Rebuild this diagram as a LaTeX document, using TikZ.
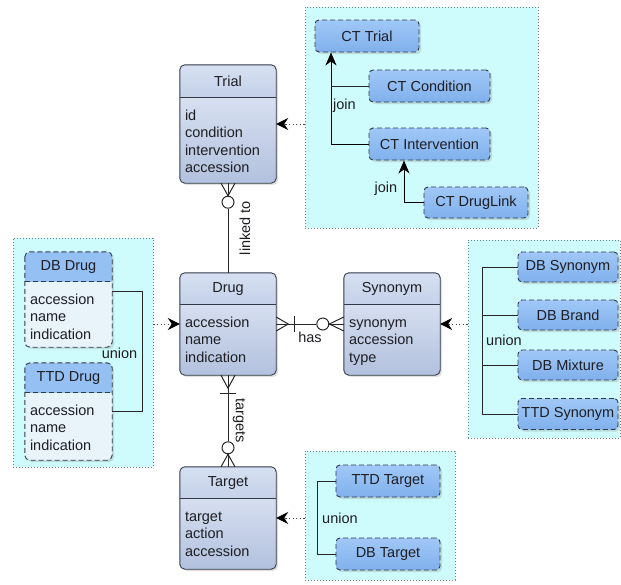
\documentclass[tikz,border=0pt]{standalone}
\usepackage{fontspec}
\setmainfont{Liberation Sans}
\usetikzlibrary{arrows.meta,shadows}
\definecolor{hdrtop}{RGB}{214,224,241}
\definecolor{hdrbot}{RGB}{190,204,230}
\definecolor{bodytop}{RGB}{230,236,248}
\definecolor{bodybot}{RGB}{178,193,222}
\definecolor{edge}{RGB}{50,58,72}
\definecolor{sboxtop}{RGB}{160,200,247}
\definecolor{sboxbot}{RGB}{128,176,236}
\definecolor{dhead}{RGB}{148,192,243}
\definecolor{dbody}{RGB}{232,243,250}
\definecolor{clfill}{RGB}{206,251,251}
\definecolor{cldraw}{RGB}{110,130,130}
\definecolor{txt}{RGB}{30,30,35}
\newcommand\fs{\fontsize{14.5}{17.5}\selectfont}
% name, style prefix, cx, cy, width, height, header height, title, body
\newcommand\erbox[9]{%
  \node[#2box, minimum width=#5pt, minimum height=#6pt] (#1) at (#3,#4) {};
  \begin{scope}
    \clip (#1.north west) rectangle ([yshift=-#7pt]#1.north east);
    \path[#2hdr, rounded corners=5pt] (#1.north west) rectangle ([yshift={-#7pt-10pt}]#1.north east);
  \end{scope}
  \path[#2line, rounded corners=5pt] (#1.north west) rectangle (#1.south east);
  \path[#2line] ([yshift=-#7pt]#1.north west) -- ([yshift=-#7pt]#1.north east);
  \node (#1-title) at ([yshift={-#7pt/2}]#1.north) {#8};
  \node[align=left, anchor=north west, inner sep=0pt] (#1-body)
     at ([xshift=5pt, yshift={-#7pt-10pt}]#1.north west) {\strut #9};
}
\begin{document}
\begin{tikzpicture}[x=1pt, y=-1pt,
  every node/.style={font=\fs, text=txt},
  shadowed/.style={drop shadow={opacity=0.25, shadow xshift=2pt, shadow yshift=-2pt}},
  ebox/.style={rectangle, inner sep=0pt, rounded corners=5pt, top color=bodytop, bottom color=bodybot, shadowed},
  ehdr/.style={top color=hdrtop, bottom color=hdrbot},
  eline/.style={draw=edge, line width=0.9pt},
  dbox/.style={rectangle, inner sep=0pt, rounded corners=5pt, fill=dbody, shadowed},
  dhdr/.style={fill=dhead},
  dline/.style={draw=edge, line width=0.9pt, dash pattern=on 5pt off 3pt},
  sbox/.style={rectangle, inner sep=0pt, rounded corners=4pt, draw=edge, line width=0.9pt,
     dash pattern=on 5pt off 3pt, top color=sboxtop, bottom color=sboxbot, shadowed},
  cluster/.style={rectangle, inner sep=0pt, fill=clfill, draw=cldraw, line width=0.8pt,
     dash pattern=on 1pt off 2pt},
  dotarrow/.style={draw=black!70, line width=1pt, dash pattern=on 1.2pt off 2.4pt,
     -{Stealth[length=12pt, width=12pt, inset=4pt, color=black]}},
  joinarrow/.style={draw=black, line width=1pt, -{Stealth[length=13pt, width=11pt, inset=4pt]}},
  uline/.style={draw=black!85, line width=1pt},
  rel/.style={draw=black!85, line width=1pt},
  circ/.style={circle, draw=black!85, line width=1pt, fill=white, minimum size=12pt, inner sep=0pt},
]
\useasboundingbox (0,0) rectangle (621,584);

% ---------- clusters ----------
\node[cluster, minimum width=233pt, minimum height=221pt] (clTop) at (421.5,117.5) {};
\node[cluster, minimum width=140pt, minimum height=229pt] (clLeft) at (83,352.5) {};
\node[cluster, minimum width=152pt, minimum height=198pt] (clRight) at (544,339) {};
\node[cluster, minimum width=150pt, minimum height=129pt] (clBot) at (380,515.5) {};

% ---------- main entities ----------
\erbox{trial}{e}{228}{124}{96}{118}{33}{Trial}{id\\condition\\intervention\\accession}
\erbox{drug}{e}{228}{324}{96}{102}{32}{Drug}{accession\\name\\indication}
\erbox{syn}{e}{392}{324}{96}{102}{32}{Synonym}{synonym\\accession\\type}
\erbox{target}{e}{228}{518}{96}{102}{32}{Target}{target\\action\\accession}

% ---------- left cluster ----------
\erbox{dbdrug}{d}{68.5}{299.5}{87}{95}{30}{DB Drug}{accession\\name\\indication}
\erbox{ttddrug}{d}{68.5}{411.5}{87}{97}{30}{TTD Drug}{accession\\name\\indication}
\coordinate (lb) at (142,0);
\draw[uline] ([yshift=8.5pt]dbdrug.east) -- ([yshift=8.5pt]dbdrug.east -| lb)
  -- (ttddrug.east -| lb) -- (ttddrug.east);
\node (lunion) at (119.5,353) {union};

% ---------- top cluster ----------
\node[sbox, minimum width=104pt, minimum height=32pt] (cttrial) at (367,36) {CT Trial};
\node[sbox, minimum width=121pt, minimum height=32pt] (ctcond) at (429.5,86) {CT Condition};
\node[sbox, minimum width=121pt, minimum height=32pt] (ctint) at (429.5,144) {CT Intervention};
\node[sbox, minimum width=104pt, minimum height=31pt] (ctdl) at (476,202.5) {CT DrugLink};
\coordinate (j1) at (331,144);
\draw[joinarrow] (ctint.west) -- (ctint.west -| j1) -- (j1 |- cttrial.south);
\draw[uline] (ctcond.west) -- (ctcond.west -| j1);
\node[anchor=west, inner sep=0pt] (join1) at (333,106) {join};
\coordinate (j2) at (404,202.5);
\draw[joinarrow] (ctdl.west) -- (ctdl.west -| j2) -- (j2 |- ctint.south);
\node (join2) at (386,189) {join};

% ---------- right cluster ----------
\node[sbox, minimum width=100pt, minimum height=30pt] (dbsyn) at (568,267) {DB Synonym};
\node[sbox, minimum width=100pt, minimum height=30pt] (dbbrand) at (568,315) {DB Brand};
\node[sbox, minimum width=100pt, minimum height=30pt] (dbmix) at (568,365) {DB Mixture};
\node[sbox, minimum width=100pt, minimum height=31pt] (ttdsyn) at (568,414) {TTD Synonym};
\coordinate (rb) at (482,0);
\draw[uline] (dbsyn.west) -- (dbsyn.west -| rb) -- (ttdsyn.west -| rb) -- (ttdsyn.west);
\draw[uline] (dbbrand.west) -- (dbbrand.west -| rb);
\draw[uline] (dbmix.west) -- (dbmix.west -| rb);
\node[anchor=west, inner sep=0pt] (runion) at (486,340) {union};

% ---------- bottom cluster ----------
\node[sbox, minimum width=104pt, minimum height=32pt] (ttdtarget) at (388,481) {TTD Target};
\node[sbox, minimum width=104pt, minimum height=32pt] (dbtarget) at (388,554) {DB Target};
\coordinate (bb) at (317,0);
\draw[uline] (ttdtarget.west) -- (ttdtarget.west -| bb) -- (dbtarget.west -| bb) -- (dbtarget.west);
\node[anchor=west, inner sep=0pt] (bunion) at (322,518) {union};

% ---------- dotted connectors ----------
\draw[dotarrow] (clTop.west |- trial.east) -- (trial.east);
\draw[dotarrow] (clLeft.east |- drug.west) -- (drug.west);
\draw[dotarrow] (clRight.west |- syn.east) -- (syn.east);
\draw[dotarrow] (clBot.west |- target.east) -- (target.east);

% ---------- Trial -- Drug (linked to) ----------
\node[circ] (c1) at ([yshift=-19pt]trial.south) {};
\draw[rel] ([xshift=-7pt]trial.south) -- (c1.north) -- ([xshift=7pt]trial.south);
\draw[rel] (trial.south) -- (c1.north);
\draw[rel] (c1.south) -- (drug.north);
\node[rotate=90] (lk) at (245,228) {linked to};

% ---------- Drug -- Target (targets) ----------
\node[circ] (c2) at ([yshift=19pt]target.north) {};
\draw[rel] ([xshift=-7pt]drug.south) -- ([yshift=-13pt]drug.south) -- ([xshift=7pt]drug.south);
\draw[rel] (drug.south) -- (c2.north);
\draw[rel] ([xshift=-8pt,yshift=-18pt]drug.south) -- ([xshift=8pt,yshift=-18pt]drug.south);
\draw[rel] ([xshift=-7pt]target.north) -- (c2.south) -- ([xshift=7pt]target.north);
\draw[rel] (c2.south) -- (target.north);
\node[rotate=-90] (tg) at (239,421) {targets};

% ---------- Drug -- Synonym (has) ----------
\node[circ] (c3) at ([xshift=-21pt]syn.west) {};
\draw[rel] ([yshift=7pt]drug.east) -- ([xshift=12pt]drug.east) -- ([yshift=-7pt]drug.east);
\draw[rel] (drug.east) -- (c3.west);
\draw[rel] ([xshift=18pt,yshift=8pt]drug.east) -- ([xshift=18pt,yshift=-8pt]drug.east);
\draw[rel] ([yshift=7pt]syn.west) -- (c3.east) -- ([yshift=-7pt]syn.west);
\draw[rel] (c3.east) -- (syn.west);
\node (hs) at (310,337) {has};
\end{tikzpicture}
\end{document}
